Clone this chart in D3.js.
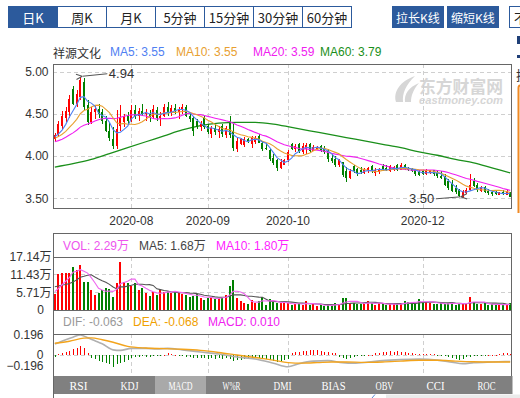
<!DOCTYPE html>
<html>
<head>
<meta charset="utf-8">
<script src="https://cdn.jsdelivr.net/npm/d3@7"></script>
<style>
  html, body { margin: 0; padding: 0; background: #fff; overflow: hidden; }
  svg { display: block; font-family: Arial, "Liberation Sans", "Noto Sans CJK SC", sans-serif; }
</style>
</head>
<body>
<svg id="chart" width="520" height="398"></svg>
<script>
// ---- data (daily bars, 2020-07-03 .. 2021-01-05) ----
const monthIdx = [21, 42, 64, 101];
const monthLabels = ['2020-08', '2020-09', '2020-10', '2020-12'];
const priceTicks = [5.00, 4.50, 4.00, 3.50];
const volTicks = [17.14, 11.43, 5.71, 0];
const macdTicks = [0.196, 0, -0.196];

const opens = [
  4.20,4.25,4.36,4.45,4.52,4.80,4.62,4.70,4.88,4.60,
  4.40,4.52,4.56,4.52,4.42,4.30,4.20,4.12,4.36,4.40,
  4.47,4.42,4.55,4.48,4.54,4.50,4.50,4.46,4.55,4.45,
  4.48,4.58,4.52,4.57,4.52,4.55,4.58,4.48,4.45,4.42,
  4.35,4.45,4.36,4.26,4.33,4.28,4.36,4.25,4.42,4.30,
  4.08,4.14,4.13,4.20,4.14,4.17,4.24,4.15,4.10,4.07,
  3.98,3.95,3.86,3.90,3.95,4.14,4.08,4.14,4.05,4.08,
  4.14,4.06,4.08,4.12,4.08,4.06,3.98,3.96,3.89,3.93,
  3.82,3.74,3.88,3.85,3.84,3.80,3.83,3.88,3.80,3.81,
  3.88,3.86,3.82,3.84,3.90,3.84,3.90,3.86,3.85,3.84,
  3.81,3.82,3.79,3.80,3.84,3.80,3.77,3.77,3.70,3.67,
  3.62,3.60,3.52,3.56,3.60,3.70,3.66,3.59,3.63,3.59,
  3.58,3.57,3.54,3.58,3.54,3.57
];
const highs = [
  4.27,4.42,4.53,4.58,4.72,4.83,4.78,4.94,4.92,4.66,
  4.58,4.60,4.62,4.56,4.48,4.40,4.35,4.55,4.60,4.50,
  4.52,4.60,4.60,4.57,4.62,4.56,4.55,4.60,4.58,4.52,
  4.62,4.64,4.60,4.62,4.58,4.62,4.60,4.52,4.48,4.44,
  4.42,4.48,4.38,4.36,4.38,4.36,4.38,4.36,4.47,4.38,
  4.21,4.22,4.23,4.22,4.24,4.24,4.26,4.18,4.15,4.08,
  4.02,3.97,3.96,3.97,4.07,4.16,4.14,4.15,4.15,4.16,
  4.16,4.13,4.12,4.13,4.12,4.08,4.02,4.00,3.97,3.93,
  3.87,3.85,3.89,3.86,3.87,3.86,3.87,3.89,3.86,3.86,
  3.91,3.89,3.90,3.88,3.91,3.92,3.91,3.87,3.86,3.85,
  3.84,3.84,3.85,3.84,3.84,3.83,3.82,3.79,3.73,3.72,
  3.66,3.61,3.60,3.62,3.79,3.74,3.68,3.65,3.64,3.61,
  3.60,3.59,3.58,3.60,3.61,3.58
];
const lows = [
  4.18,4.23,4.31,4.40,4.45,4.60,4.58,4.66,4.55,4.37,
  4.38,4.44,4.45,4.38,4.28,4.18,4.08,4.08,4.30,4.34,
  4.38,4.40,4.44,4.42,4.47,4.42,4.40,4.44,4.42,4.36,
  4.46,4.48,4.47,4.50,4.44,4.50,4.46,4.40,4.24,4.32,
  4.30,4.32,4.26,4.22,4.25,4.22,4.23,4.22,4.22,4.06,
  4.05,4.13,4.11,4.15,4.10,4.14,4.15,4.06,4.07,3.94,
  3.89,3.82,3.85,3.89,3.93,4.07,4.05,4.04,4.03,4.03,
  4.04,4.06,4.07,4.05,4.03,3.93,3.92,3.87,3.87,3.75,
  3.69,3.73,3.80,3.77,3.79,3.79,3.80,3.80,3.77,3.79,
  3.82,3.82,3.81,3.82,3.82,3.83,3.83,3.82,3.81,3.77,
  3.76,3.78,3.78,3.79,3.77,3.74,3.73,3.64,3.60,3.57,
  3.55,3.51,3.50,3.55,3.59,3.63,3.58,3.58,3.56,3.54,
  3.53,3.54,3.54,3.54,3.54,3.51
];
const closes = [
  4.25,4.38,4.47,4.54,4.68,4.62,4.74,4.90,4.58,4.40,
  4.52,4.56,4.50,4.42,4.30,4.22,4.12,4.32,4.45,4.47,
  4.42,4.55,4.48,4.54,4.50,4.52,4.46,4.56,4.45,4.48,
  4.58,4.52,4.57,4.54,4.55,4.58,4.48,4.44,4.30,4.35,
  4.38,4.34,4.28,4.33,4.28,4.32,4.26,4.33,4.25,4.10,
  4.18,4.20,4.20,4.17,4.21,4.22,4.16,4.08,4.09,3.96,
  3.92,3.86,3.93,3.95,4.05,4.09,4.12,4.06,4.12,4.13,
  4.06,4.11,4.11,4.07,4.05,3.96,3.94,3.89,3.95,3.78,
  3.74,3.82,3.82,3.80,3.81,3.85,3.86,3.82,3.84,3.85,
  3.84,3.83,3.88,3.87,3.84,3.90,3.85,3.83,3.82,3.79,
  3.78,3.79,3.83,3.83,3.79,3.76,3.74,3.66,3.62,3.59,
  3.57,3.53,3.58,3.60,3.66,3.64,3.60,3.63,3.58,3.56,
  3.55,3.55,3.57,3.55,3.58,3.52
];
// closes before the first visible bar (only feed the moving averages)
const prevCloses = [4.10,4.12,4.08,4.15,4.13,4.11,4.16,4.14,4.12,4.18,4.17,4.19,4.21,4.20,4.18,4.22,4.24,4.20,4.24];

// volume in 万
const volumes = [
  5.1,11.6,11.8,11.8,12.0,13.7,12.9,14.5,9.1,9.1,
  6.4,4.8,5.4,6.4,7.2,6.6,4.3,8.6,15.5,9.1,
  8.8,7.7,8.6,6.4,7.0,5.4,4.5,5.9,4.8,6.4,
  5.9,6.1,5.6,5.9,5.4,5.0,4.8,4.3,4.5,5.1,
  3.7,3.2,4.0,4.3,3.4,3.7,4.3,4.8,7.7,9.6,
  3.7,3.0,2.1,1.9,3.2,2.4,3.0,4.3,1.6,3.4,
  2.7,2.1,2.1,2.1,2.4,1.6,1.9,2.1,1.6,3.0,
  1.6,1.9,1.3,1.6,1.3,1.6,1.6,2.1,1.9,3.7,
  3.7,2.4,2.1,1.9,1.9,2.1,3.0,2.1,1.6,2.4,
  1.9,1.6,1.9,1.9,1.9,2.1,2.9,2.7,2.4,2.1,
  3.4,2.7,2.7,2.4,1.9,1.9,2.1,1.9,2.1,2.7,
  1.6,1.9,2.1,1.9,4.3,2.7,1.9,1.9,2.1,1.6,
  1.9,1.6,1.6,1.9,1.6,2.29
];
const prevVolumes = [9.5,8.6,10.2,8.8,8.4,6.5,5.8,6.2,5.9];

// MA60 read every 5 bars
const ma60Days = [0,5,10,15,20,25,30,35,40,45,50,55,60,65,70,75,80,85,90,95,100,105,110,115,120,125];
const ma60Vals = [3.87,3.91,3.96,4.03,4.10,4.17,4.24,4.31,4.36,4.39,4.40,4.40,4.38,4.34,4.30,4.26,4.22,4.18,4.14,4.10,4.05,4.01,3.96,3.92,3.86,3.80];

// MACD
const difDays = [0,3,5,7,9,11,13,16,18,21,25,28,31,35,40,45,50,55,60,64,67,71,75,79,82,86,90,95,100,105,109,112,115,120,125];
const difVals = [0.108,0.15,0.175,0.196,0.17,0.14,0.11,0.05,0.045,0.065,0.065,0.06,0.065,0.05,0.03,0.01,-0.02,-0.04,-0.08,-0.115,-0.085,-0.06,-0.055,-0.075,-0.08,-0.07,-0.055,-0.045,-0.04,-0.05,-0.07,-0.085,-0.075,-0.068,-0.063];
const deaDays = [0,4,8,10,13,16,20,25,30,35,40,45,50,55,60,64,68,72,76,80,85,90,95,100,105,110,115,120,125];
const deaVals = [0.115,0.135,0.165,0.168,0.15,0.125,0.085,0.068,0.062,0.056,0.045,0.025,0.0,-0.025,-0.05,-0.075,-0.08,-0.075,-0.068,-0.068,-0.072,-0.068,-0.06,-0.052,-0.052,-0.06,-0.066,-0.068,-0.068];
const macdBars = [
  -0.02,0.005,0.016,0.026,0.04,0.055,0.065,0.085,0.065,0.02,
  -0.033,-0.043,-0.056,-0.065,-0.08,-0.088,-0.115,-0.088,-0.075,-0.065,
  -0.05,-0.033,-0.023,-0.016,-0.01,-0.016,-0.023,-0.01,-0.01,-0.005,
  0.003,0.015,0.012,0.003,-0.01,-0.008,-0.015,-0.022,-0.03,-0.03,
  -0.025,-0.03,-0.035,-0.03,-0.035,-0.03,-0.035,-0.03,-0.04,-0.055,
  -0.05,-0.045,-0.04,-0.035,-0.03,-0.028,-0.025,-0.033,-0.04,-0.05,
  -0.056,-0.065,-0.06,-0.05,-0.04,0.016,0.026,0.033,0.04,0.043,
  0.046,0.05,0.046,0.04,0.033,0.03,0.023,0.016,-0.016,-0.033,
  -0.043,-0.033,-0.016,-0.01,-0.007,-0.004,0.002,0.004,0.016,0.023,
  0.03,0.033,0.036,0.033,0.036,0.03,0.026,0.023,0.016,0.013,
  0.008,0.005,0.01,0.01,0.006,-0.003,-0.01,-0.01,-0.023,-0.033,
  -0.043,-0.05,-0.043,-0.023,-0.016,-0.01,-0.008,-0.005,-0.003,0.002,
  0.003,0.003,0.005,0.016,0.023,0.01
];

const periodTabs = ['日K', '周K', '月K', '5分钟', '15分钟', '30分钟', '60分钟'];
const sizeButtons = ['拉长K线', '缩短K线'];
const indicatorTabs = ['RSI', 'KDJ', 'MACD', 'W%R', 'DMI', 'BIAS', 'OBV', 'CCI', 'ROC'];

// ---- colours ----
const blue = '#2c5a9c', red = '#ff0000', green = '#008000';
const c5 = '#4f80f2', c10 = '#e8a030', c20 = '#f020f0', c60 = '#1a8f1a';

const svg = d3.select('#chart');
const n = closes.length;

const L = 53, R = 511;
const x = d3.scaleBand().domain(d3.range(n)).range([L, 512]);
const xc = i => x(i) + x.bandwidth() / 2;
const y = d3.scaleLinear().domain([3.5, 5.0]).range([198.3, 71.7]);
const yv = d3.scaleLinear().domain([0, 17.14]).range([310, 256.7]);
const ym = d3.scaleLinear().domain([-0.196, 0.196]).range([375, 335]);

function movingAvg(series, pre, len) {
  const all = pre.concat(series);
  return series.map((_, i) => {
    const j = i + pre.length;
    return d3.mean(all.slice(Math.max(0, j - len + 1), j + 1));
  });
}
const up = i => closes[i] >= opens[i];

// ---- toolbar ----
const tb = svg.append('g').style('font-family', '"Noto Sans CJK SC", sans-serif').style('font-size', '13px');
periodTabs.forEach((t, i) => {
  const bx = 8 + i * 49;
  tb.append('rect').attr('x', bx + 0.5).attr('y', 6.5).attr('width', 49).attr('height', 21)
    .attr('fill', i === 0 ? blue : '#fff').attr('stroke', blue);
  tb.append('text').attr('x', bx + 25).attr('y', 17).attr('text-anchor', 'middle')
    .attr('dominant-baseline', 'central').attr('fill', i === 0 ? '#fff' : '#222').text(t);
});
sizeButtons.forEach((t, i) => {
  const bx = 392 + i * 55;
  tb.append('rect').attr('x', bx).attr('y', 6).attr('width', 52).attr('height', 22).attr('fill', blue);
  tb.append('text').attr('x', bx + 26).attr('y', 17).attr('text-anchor', 'middle')
    .attr('dominant-baseline', 'central').attr('fill', '#fff').style('font-size', '12px').text(t);
});
tb.append('rect').attr('x', 509.5).attr('y', 6.5).attr('width', 30).attr('height', 21).attr('fill', '#fff').attr('stroke', blue);
tb.append('text').attr('x', 514).attr('y', 17).attr('dominant-baseline', 'central').attr('fill', '#222').text('不复权');

// bits of the side panel that are cut off at the right
svg.append('rect').attr('x', 517).attr('y', 36).attr('width', 3).attr('height', 8).attr('fill', '#1f3f77');
svg.append('rect').attr('x', 517).attr('y', 55).attr('width', 3).attr('height', 3).attr('fill', '#1f3f77');
svg.append('text').attr('x', 516).attr('y', 74).attr('dominant-baseline', 'central').attr('fill', '#333')
  .style('font-family', '"Noto Sans CJK SC"').style('font-size', '13px').text('换');
svg.append('path').attr('d', 'M521,85.5 L520,85.5 Q518.5,85.5 518.5,88 L518.5,213').attr('fill', 'none')
  .attr('stroke', '#f08a24').attr('stroke-width', 2);

// ---- title row ----
const title = svg.append('g').style('font-size', '12px');
title.append('text').attr('x', 53).attr('y', 52).attr('dominant-baseline', 'central').attr('fill', '#333')
  .style('font-family', '"Noto Sans CJK SC"').text('祥源文化');
[['MA5: 3.55', 110, c5], ['MA10: 3.55', 176, c10], ['MA20: 3.59', 253, c20], ['MA60: 3.79', 320, c60]]
  .forEach(([t, tx, col]) => {
    title.append('text').attr('x', tx).attr('y', 52).attr('dominant-baseline', 'central').attr('fill', col).text(t);
  });

// ---- watermark ----
const wm = svg.append('g').attr('fill', '#d6d6d6');
wm.append('path').attr('d', 'M396,102 C393,92 400,81 415,76 C406,85 402,93 403,102 Z');
wm.append('path').attr('d', 'M405,102 C404,94 409,87 419,83 C413,90 411,96 411,102 Z');
wm.append('text').attr('x', 419).attr('y', 92.5).attr('textLength', 84).attr('lengthAdjust', 'spacingAndGlyphs')
  .style('font-family', '"Noto Sans CJK SC"').style('font-size', '17px').style('font-weight', 'bold').text('东方财富网');
wm.append('text').attr('x', 419).attr('y', 104).attr('textLength', 84).attr('lengthAdjust', 'spacingAndGlyphs')
  .style('font-size', '10.5px').style('font-weight', 'bold').style('font-style', 'italic').text('eastmoney.com');

// ---- grid ----
const grid = svg.append('g').attr('stroke', '#cfcfcf').attr('stroke-dasharray', '4,3').attr('fill', 'none');
priceTicks.forEach(p => grid.append('line').attr('x1', L).attr('x2', R)
  .attr('y1', Math.round(y(p)) + 0.5).attr('y2', Math.round(y(p)) + 0.5));
[11.43, 5.71].forEach(v => grid.append('line').attr('x1', L).attr('x2', R)
  .attr('y1', Math.round(yv(v)) + 0.5).attr('y2', Math.round(yv(v)) + 0.5));
grid.append('line').attr('x1', L).attr('x2', R).attr('y1', Math.round(ym(0)) + 0.5).attr('y2', Math.round(ym(0)) + 0.5);
monthIdx.forEach(i => {
  const gx = Math.round(xc(i)) + 0.5;
  [[64, 209], [257, 310], [334, 376]].forEach(([a, b]) =>
    grid.append('line').attr('x1', gx).attr('x2', gx).attr('y1', a).attr('y2', b));
});

// ---- clip paths ----
const defs = svg.append('defs');
defs.append('clipPath').attr('id', 'clipMain').append('rect').attr('x', L).attr('y', 64).attr('width', R - L).attr('height', 145);
defs.append('clipPath').attr('id', 'clipMacd').append('rect').attr('x', L).attr('y', 334).attr('width', R - L).attr('height', 42);
defs.append('marker').attr('id', 'arrow').attr('viewBox', '0 -4 8 8').attr('refX', 0).attr('refY', 0)
  .attr('markerWidth', 7).attr('markerHeight', 7).attr('orient', 'auto-start-reverse')
  .append('path').attr('d', 'M7,-3 L0,0 L7,3').attr('fill', 'none').attr('stroke', '#555').attr('stroke-width', 1.2);

// ---- main chart ----
const main = svg.append('g').attr('clip-path', 'url(#clipMain)');
const lineOf = (arr, sc) => d3.line().x((d, i) => xc(i)).y(d => sc(d))(arr);
const curveOf = (days, vals, sc) => d3.line().curve(d3.curveMonotoneX).x((d, k) => xc(days[k])).y(d => sc(d))(vals);

main.append('path').attr('d', curveOf(ma60Days, ma60Vals, y)).attr('fill', 'none').attr('stroke', c60).attr('stroke-width', 1.3);

const cg = main.selectAll('.candle').data(d3.range(n)).join('g').attr('class', 'candle')
  .attr('fill', i => up(i) ? red : green).attr('shape-rendering', 'crispEdges');
cg.append('rect').attr('x', i => Math.round(xc(i)) - 0.5).attr('width', 1)
  .attr('y', i => y(highs[i])).attr('height', i => y(lows[i]) - y(highs[i]));
cg.append('rect').attr('x', i => Math.round(xc(i)) - 1).attr('width', 2)
  .attr('y', i => y(Math.max(opens[i], closes[i])))
  .attr('height', i => Math.max(1, Math.abs(y(opens[i]) - y(closes[i]))));

[[20, c20], [10, c10], [5, c5]].forEach(([len, col]) => {
  main.append('path').attr('d', lineOf(movingAvg(closes, prevCloses, len), y))
    .attr('fill', 'none').attr('stroke', col).attr('stroke-width', 1.1);
});

// annotations for the extremes
const hiI = d3.maxIndex(highs), loI = d3.minIndex(lows);
const ann = svg.append('g').style('font-size', '13px').attr('fill', '#333');
ann.append('line').attr('x1', xc(hiI) + 27).attr('y1', y(highs[hiI]) - 3)
  .attr('x2', xc(hiI) + 2).attr('y2', y(highs[hiI]) - 0.5)
  .attr('stroke', '#555').attr('marker-end', 'url(#arrow)');
ann.append('text').attr('x', xc(hiI) + 28.5).attr('y', y(highs[hiI]) - 3.5).attr('dominant-baseline', 'central')
  .text(d3.format('.2f')(highs[hiI]));
ann.append('line').attr('x1', xc(loI) - 27).attr('y1', y(lows[loI]) + 0.5)
  .attr('x2', xc(loI) - 2).attr('y2', y(lows[loI]) - 1.5)
  .attr('stroke', '#555').attr('marker-end', 'url(#arrow)');
ann.append('text').attr('x', xc(loI) - 28.5).attr('y', y(lows[loI]) + 0.5).attr('text-anchor', 'end')
  .attr('dominant-baseline', 'central').text(d3.format('.2f')(lows[loI]));

// axes
function styleAxis(g) {
  g.select('.domain').remove();
  g.selectAll('.tick line').remove();
  g.attr('font-size', null).attr('font-family', null);
  g.selectAll('text').attr('fill', '#333').style('font-size', '12px');
}
svg.append('g').attr('transform', 'translate(48.5,0)')
  .call(d3.axisLeft(y).tickValues(priceTicks).tickFormat(d3.format('.2f')).tickSize(0).tickPadding(0))
  .call(styleAxis);
svg.append('g').attr('transform', 'translate(0,209)')
  .call(d3.axisBottom(x).tickValues(monthIdx).tickFormat(i => monthLabels[monthIdx.indexOf(i)]).tickSize(0).tickPadding(7))
  .call(styleAxis);

// ---- volume panel ----
const vol = svg.append('g');
vol.selectAll('rect').data(d3.range(n)).join('rect').attr('shape-rendering', 'crispEdges')
  .attr('x', i => Math.round(xc(i)) - 1).attr('width', 2)
  .attr('y', i => yv(volumes[i])).attr('height', i => yv(0) - yv(volumes[i]))
  .attr('fill', i => up(i) ? red : green);
vol.append('path').attr('d', lineOf(movingAvg(volumes, prevVolumes, 10), yv)).attr('fill', 'none').attr('stroke', '#555').attr('stroke-width', 1.1);
vol.append('path').attr('d', lineOf(movingAvg(volumes, prevVolumes, 5), yv)).attr('fill', 'none').attr('stroke', '#ee66ee').attr('stroke-width', 1.1);

const vAxis = svg.append('g').attr('transform', 'translate(51.5,0)')
  .call(d3.axisLeft(yv).tickValues(volTicks).tickFormat(v => v === 0 ? '0' : d3.format('.2f')(v) + '万').tickSize(0).tickPadding(0))
  .call(styleAxis);
vAxis.selectAll('.tick').filter(v => v === 0).select('text').attr('x', -7.5);

const vh = svg.append('g').style('font-size', '12px');
[['VOL: 2.29万', 63, '#ee55ee'], ['MA5: 1.68万', 139, '#444'], ['MA10: 1.80万', 216, '#ff22ff']].forEach(([t, tx, col]) =>
  vh.append('text').attr('x', tx).attr('y', 245.7).attr('dominant-baseline', 'central').attr('fill', col).text(t));

// ---- MACD panel ----
const mg = svg.append('g').attr('clip-path', 'url(#clipMacd)');
mg.selectAll('rect').data(d3.range(n)).join('rect').attr('shape-rendering', 'crispEdges')
  .attr('x', i => Math.round(xc(i)) - 0.5).attr('width', 1)
  .attr('y', i => Math.min(ym(0), ym(macdBars[i])))
  .attr('height', i => Math.max(1, Math.abs(ym(macdBars[i]) - ym(0))))
  .attr('fill', i => macdBars[i] >= 0 ? red : green);
mg.append('path').attr('d', curveOf(difDays, difVals, ym)).attr('fill', 'none').attr('stroke', '#b0b0b0').attr('stroke-width', 1.6);
mg.append('path').attr('d', curveOf(deaDays, deaVals, ym)).attr('fill', 'none').attr('stroke', '#f3a41c').attr('stroke-width', 1.4);

const mAxis = svg.append('g').attr('transform', 'translate(43.5,0)')
  .call(d3.axisLeft(ym).tickValues(macdTicks).tickFormat(v => v === 0 ? '0' : d3.format('.3f')(v)).tickSize(0).tickPadding(0))
  .call(styleAxis);
// the lowest label sits just above the tab bar
mAxis.selectAll('.tick').filter(v => v < 0).attr('transform', 'translate(0,366)');

const mh = svg.append('g').style('font-size', '12px');
[['DIF: -0.063', 63, '#999'], ['DEA: -0.068', 133, '#f0a000'], ['MACD: 0.010', 208, '#f020f0']].forEach(([t, tx, col]) =>
  mh.append('text').attr('x', tx).attr('y', 322).attr('dominant-baseline', 'central').attr('fill', col).text(t));

// indicator tab bar
const tabW = (R + 1 - L) / indicatorTabs.length;
const tabs = svg.append('g');
indicatorTabs.forEach((t, i) => {
  tabs.append('rect').attr('x', L + i * tabW).attr('y', 376).attr('width', tabW + 0.5).attr('height', 18)
    .attr('fill', t === 'MACD' ? '#a9a9a9' : '#808080');
  tabs.append('text').attr('x', L + i * tabW + tabW / 2).attr('y', 385.5).attr('text-anchor', 'middle')
    .attr('dominant-baseline', 'central').attr('fill', '#fff').attr('textLength', t.length * 6)
    .attr('lengthAdjust', 'spacingAndGlyphs')
    .style('font-family', '"Liberation Serif", serif').style('font-size', '12px').text(t);
});

// ---- frames ----
const fr = svg.append('g').attr('stroke', '#666').attr('fill', 'none').attr('shape-rendering', 'crispEdges');
fr.append('rect').attr('x', L + 0.5).attr('y', 64.5).attr('width', R - L).attr('height', 144);
fr.append('line').attr('x1', L + 0.5).attr('x2', L + 0.5).attr('y1', 233.5).attr('y2', 398);
fr.append('line').attr('x1', R + 0.5).attr('x2', R + 0.5).attr('y1', 233.5).attr('y2', 376);
[233.5, 257.5, 310.5, 334.5].forEach(yy => fr.append('line').attr('x1', L).attr('x2', R + 1).attr('y1', yy).attr('y2', yy));

// bottom strip
svg.append('rect').attr('x', 386).attr('y', 394.5).attr('width', 134).attr('height', 4).attr('fill', '#ebebeb');
svg.append('line').attr('x1', 372).attr('y1', 398).attr('x2', 375).attr('y2', 394.5).attr('stroke', '#5a8ad6');
</script>
</body>
</html>
